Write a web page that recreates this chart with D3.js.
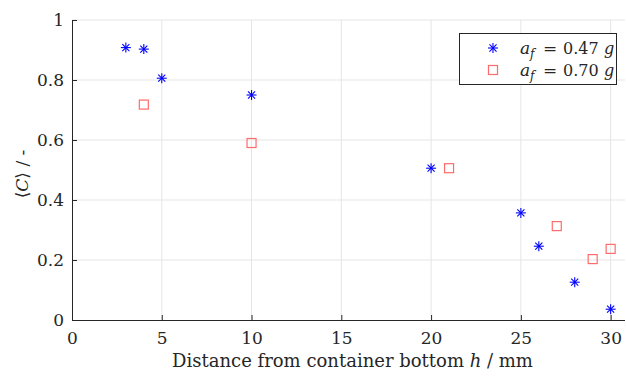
<!DOCTYPE html>
<html>
<head>
<meta charset="utf-8">
<script src="https://cdn.jsdelivr.net/npm/d3@7"></script>
<style>
  body { margin: 0; background: #fff; }
  text { font-family: "DejaVu Serif", "Liberation Serif", serif; fill: #262626; }
</style>
</head>
<body>
<div id="chart"></div>
<script>
// series 1: a_f = 0.47 g
const hLow = [3, 4, 5, 10, 20, 25, 26, 28, 30];
const cLow = [0.908, 0.903, 0.806, 0.750, 0.506, 0.357, 0.246, 0.126, 0.036];
// series 2: a_f = 0.70 g
const hHigh = [4, 10, 21, 27, 29, 30];
const cHigh = [0.718, 0.590, 0.506, 0.313, 0.203, 0.237];

const xTicks = [0, 5, 10, 15, 20, 25, 30];
const yTicks = [0, 0.2, 0.4, 0.6, 0.8, 1];
const yTickLabels = ["0", "0.2", "0.4", "0.6", "0.8", "1"];
const legendLabels = ["0.47", "0.70"];

const W = 626, H = 377;
const margin = { top: 20, right: 1, bottom: 57, left: 72 };
const iw = W - margin.left - margin.right;
const ih = H - margin.top - margin.bottom;

const svg = d3.select("#chart").append("svg")
    .attr("width", W)
    .attr("height", H);

const g = svg.append("g")
    .attr("transform", `translate(${margin.left},${margin.top})`);

const x = d3.scaleLinear().domain([0, 30.8]).range([0, iw]);
const y = d3.scaleLinear().domain([0, 1]).range([ih, 0]);

// grid
g.append("g").selectAll("line")
    .data(xTicks.slice(1))
    .enter().append("line")
    .attr("x1", d => x(d)).attr("x2", d => x(d))
    .attr("y1", 0).attr("y2", ih)
    .attr("stroke", "#e5e5e5").attr("stroke-width", 1);
g.append("g").selectAll("line")
    .data(yTicks.slice(1))
    .enter().append("line")
    .attr("x1", 0).attr("x2", iw)
    .attr("y1", d => y(d)).attr("y2", d => y(d))
    .attr("stroke", "#e5e5e5").attr("stroke-width", 1);

// axes
const xAxis = g.append("g")
    .attr("transform", `translate(0,${ih})`)
    .call(d3.axisBottom(x).tickValues(xTicks).tickSize(-5).tickPadding(12).tickFormat(d3.format("d")));
const yAxis = g.append("g")
    .call(d3.axisLeft(y).tickValues(yTicks).tickSize(-5).tickPadding(8).tickFormat((d, i) => yTickLabels[i]));

[xAxis, yAxis].forEach(a => {
    a.select(".domain").attr("stroke", "#262626").attr("stroke-width", 1);
    a.selectAll(".tick line").attr("stroke", "#262626");
    a.selectAll(".tick text").style("font-size", "17px").attr("fill", "#262626");
});
xAxis.select(".domain").attr("d", `M0,0.5H${iw}`);
yAxis.select(".domain").attr("d", `M0.5,0V${ih}`);

// markers
function asterisk(sel, r) {
    const angles = [0, 45, 90, 135];
    angles.forEach(a => {
        const rad = a * Math.PI / 180;
        sel.append("line")
            .attr("x1", -r * Math.cos(rad)).attr("y1", -r * Math.sin(rad))
            .attr("x2", r * Math.cos(rad)).attr("y2", r * Math.sin(rad))
            .attr("stroke", "#0000ff").attr("stroke-width", 1.1);
    });
}

const lowData = hLow.map((h, i) => ({ h: h, c: cLow[i] }));
const highData = hHigh.map((h, i) => ({ h: h, c: cHigh[i] }));

g.append("g").selectAll("g")
    .data(lowData)
    .enter().append("g")
    .attr("transform", d => `translate(${x(d.h)},${y(d.c)})`)
    .each(function () { asterisk(d3.select(this), 5); });

g.append("g").selectAll("rect")
    .data(highData)
    .enter().append("rect")
    .attr("x", d => x(d.h) - 4.5)
    .attr("y", d => y(d.c) - 4.5)
    .attr("width", 9).attr("height", 9)
    .attr("fill", "none")
    .attr("stroke", "#ff6b6b").attr("stroke-width", 1.2);

// axis labels
const xl = svg.append("text")
    .attr("x", margin.left + iw / 2 + 4)
    .attr("y", 367)
    .attr("text-anchor", "middle")
    .style("font-size", "18px");
xl.append("tspan").text("Distance from container bottom ");
xl.append("tspan").attr("font-style", "italic").text("h");
xl.append("tspan").text(" / mm");

const yl = svg.append("text")
    .attr("transform", `translate(28,${margin.top + ih / 2 + 4}) rotate(-90)`)
    .attr("text-anchor", "middle")
    .style("font-size", "17px");
yl.append("tspan").text("\u27E8");
yl.append("tspan").attr("font-style", "italic").text("C");
yl.append("tspan").text("\u27E9 / -");

// legend
const lg = svg.append("g").attr("transform", "translate(459,33)");
lg.append("rect")
    .attr("x", 0.5).attr("y", 0.5)
    .attr("width", 157).attr("height", 51)
    .attr("fill", "#fff")
    .attr("stroke", "#262626").attr("stroke-width", 1);

legendLabels.forEach((label, i) => {
    const cy = 15 + i * 22;
    const item = lg.append("g").attr("transform", `translate(34,${cy})`);
    if (i === 0) {
        asterisk(item, 5);
    } else {
        item.append("rect")
            .attr("x", -4.5).attr("y", -4.5).attr("width", 9).attr("height", 9)
            .attr("fill", "none").attr("stroke", "#ff6b6b").attr("stroke-width", 1.2);
    }
    const base = cy + 6;
    lg.append("text").attr("x", 61).attr("y", base).attr("font-style", "italic")
        .style("font-size", "17px").text("a");
    lg.append("text").attr("x", 71).attr("y", base + 4).attr("font-style", "italic")
        .style("font-size", "12px").text("f");
    lg.append("text").attr("x", 84).attr("y", base)
        .style("font-size", "17px").text("=");
    lg.append("text").attr("x", 104).attr("y", base)
        .style("font-size", "16px").text(label);
    lg.append("text").attr("x", 145).attr("y", base).attr("font-style", "italic")
        .style("font-size", "16px").text("g");
});
</script>
</body>
</html>
